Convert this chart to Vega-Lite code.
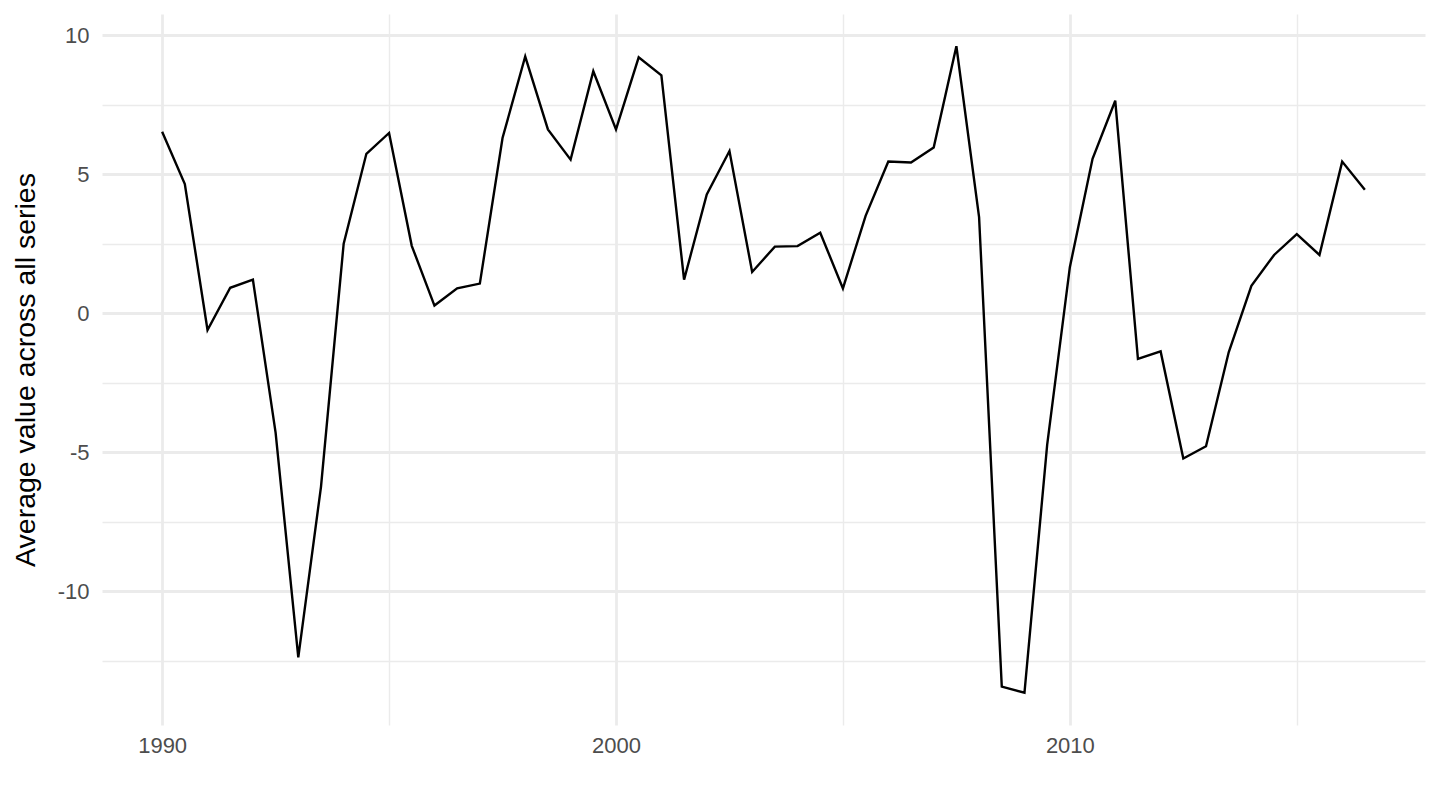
{
  "$schema": "https://vega.github.io/schema/vega-lite/v6.json",
  "width": 1323,
  "height": 711,
  "autosize": "none",
  "padding": {"left": 102, "top": 14, "right": 15, "bottom": 85},
  "background": "white",
  "config": {
    "view": {"stroke": null},
    "font": "Liberation Sans"
  },
  "data": {
    "values": [
      {"year": 1990.0, "value": 6.52},
      {"year": 1990.5, "value": 4.64},
      {"year": 1991.0, "value": -0.61},
      {"year": 1991.5, "value": 0.91},
      {"year": 1992.0, "value": 1.2},
      {"year": 1992.5, "value": -4.3},
      {"year": 1993.0, "value": -12.39},
      {"year": 1993.5, "value": -6.25},
      {"year": 1994.0, "value": 2.5},
      {"year": 1994.5, "value": 5.73},
      {"year": 1995.0, "value": 6.48},
      {"year": 1995.5, "value": 2.42},
      {"year": 1996.0, "value": 0.27},
      {"year": 1996.5, "value": 0.89},
      {"year": 1997.0, "value": 1.06},
      {"year": 1997.5, "value": 6.3},
      {"year": 1998.0, "value": 9.23},
      {"year": 1998.5, "value": 6.61},
      {"year": 1999.0, "value": 5.52},
      {"year": 1999.5, "value": 8.7},
      {"year": 2000.0, "value": 6.61},
      {"year": 2000.5, "value": 9.2},
      {"year": 2001.0, "value": 8.55},
      {"year": 2001.5, "value": 1.2},
      {"year": 2002.0, "value": 4.27},
      {"year": 2002.5, "value": 5.83},
      {"year": 2003.0, "value": 1.48},
      {"year": 2003.5, "value": 2.39},
      {"year": 2004.0, "value": 2.41},
      {"year": 2004.5, "value": 2.89},
      {"year": 2005.0, "value": 0.89},
      {"year": 2005.5, "value": 3.5},
      {"year": 2006.0, "value": 5.45},
      {"year": 2006.5, "value": 5.42},
      {"year": 2007.0, "value": 5.96},
      {"year": 2007.5, "value": 9.6},
      {"year": 2008.0, "value": 3.45},
      {"year": 2008.5, "value": -13.44},
      {"year": 2009.0, "value": -13.66},
      {"year": 2009.5, "value": -4.74},
      {"year": 2010.0, "value": 1.65},
      {"year": 2010.5, "value": 5.55},
      {"year": 2011.0, "value": 7.64},
      {"year": 2011.5, "value": -1.65},
      {"year": 2012.0, "value": -1.38},
      {"year": 2012.5, "value": -5.23},
      {"year": 2013.0, "value": -4.79},
      {"year": 2013.5, "value": -1.41},
      {"year": 2014.0, "value": 0.98},
      {"year": 2014.5, "value": 2.09},
      {"year": 2015.0, "value": 2.84},
      {"year": 2015.5, "value": 2.09},
      {"year": 2016.0, "value": 5.45},
      {"year": 2016.5, "value": 4.44}
    ]
  },
  "mark": {"type": "line", "color": "black", "strokeWidth": 2.4},
  "encoding": {
    "x": {
      "field": "year",
      "type": "quantitative",
      "scale": {"domain": [1988.675, 2017.825], "nice": false, "zero": false},
      "axis": {
        "title": null,
        "values": [1990, 1995, 2000, 2005, 2010, 2015],
        "labelExpr": "datum.value % 10 === 0 ? '' + datum.value : ''",
        "grid": true,
        "gridColor": "#EBEBEB",
        "gridWidth": {"condition": {"test": "datum.value % 10 === 0", "value": 2.8}, "value": 1.4},
        "domain": false,
        "ticks": false,
        "labelFontSize": 22,
        "labelColor": "#4D4D4D",
        "labelPadding": 10,
        "labelFlush": false
      }
    },
    "y": {
      "field": "value",
      "type": "quantitative",
      "scale": {"domain": [-14.82, 10.76], "nice": false, "zero": false},
      "axis": {
        "title": "Average value across all series",
        "titleFontSize": 28.5,
        "titleFontWeight": "normal",
        "titleColor": "black",
        "titlePadding": 17,
        "values": [-12.5, -10, -7.5, -5, -2.5, 0, 2.5, 5, 7.5, 10],
        "labelExpr": "datum.value % 5 === 0 ? '' + datum.value : ''",
        "grid": true,
        "gridColor": "#EBEBEB",
        "gridWidth": {"condition": {"test": "datum.value % 5 === 0", "value": 2.8}, "value": 1.4},
        "domain": false,
        "ticks": false,
        "labelFontSize": 22,
        "labelColor": "#4D4D4D",
        "labelPadding": 13,
        "labelFlush": false
      }
    }
  }
}
